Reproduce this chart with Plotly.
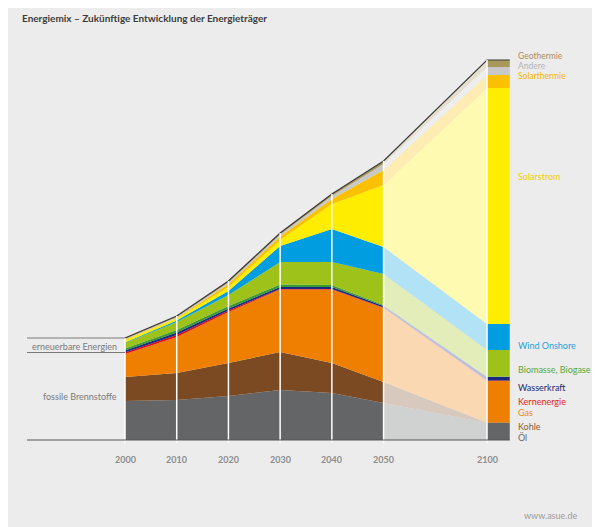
import plotly.graph_objects as go

# ---- data (heights of each layer, arbitrary units) ----
years = ["2000", "2010", "2020", "2030", "2040", "2050", "2100"]
oel          = [39, 40, 44, 50, 47, 37, 17]
kohle        = [24, 27, 33, 38, 30, 21, 0.5]
gas          = [23, 36, 51, 62.5, 73.5, 74, 41.5]
kernenergie  = [1.5, 2, 1.5, 0.5, 0.5, 0.5, 0.5]
wasserkraft  = [2, 2.5, 2, 2, 2, 1.5, 3.5]
biogase      = [2, 2.5, 2.5, 2.5, 2, 1, 0.5]
biomasse     = [5.5, 8, 11, 22.5, 23, 31, 26.5]
wind_onshore = [0.5, 1.5, 4, 16, 33, 27, 26]
solarstrom   = [2.5, 2, 4, 6, 25, 62, 236]
solarthermie = [0.5, 0.5, 3, 3.5, 5, 15, 13]
andere       = [0.5, 1, 1.5, 2, 3, 6, 8]
geothermie   = [1, 1, 1.5, 1.5, 2, 3, 7]

# ---- layout constants ----
OFF = 8                      # page body margin
W, H = 600 - OFF, 527 - OFF
XPOS = [2000, 2010, 2020, 2030, 2040, 2050, 2070]   # compressed time axis positions
XCOL_END = 2074.4
PX = (487 - 125) / 70.0      # px per x unit
X0 = 2000 - (125 - OFF) / PX
X1 = X0 + W / PX
YMIN, YMAX = -10, 400        # 1 unit = 1 px; 0 at reference y=440
TOP = 40                     # reference px of plot top


def xr(px):    # reference pixel -> paper x
    return (px - OFF) / W


def yr(py):    # reference pixel -> paper y (plot-area based)
    return (440 - py - YMIN) / (YMAX - YMIN)


layers = [
    ("Öl", oel, "#646567"),
    ("Kohle", kohle, "#7b4a22"),
    ("Gas", gas, "#ee7f00"),
    ("Kernenergie", kernenergie, "#e30613"),
    ("Wasserkraft", wasserkraft, "#1c2a7c"),
    ("Biogase", biogase, "#3a9b35"),
    ("Biomasse", biomasse, "#9ec21a"),
    ("Wind Onshore", wind_onshore, "#009ee0"),
    ("Solarstrom", solarstrom, "#ffed00"),
    ("Solarthermie", solarthermie, "#fbc000"),
    ("Andere", andere, "#c8c8c8"),
    ("Geothermie", geothermie, "#a8985a"),
]


def pale(hexcol, f=0.3):
    h = hexcol.lstrip("#")
    r, g, b = (int(h[i:i + 2], 16) for i in (0, 2, 4))
    mix = lambda c: int(round(c * f + 255 * (1 - f)))
    return "rgb(%d,%d,%d)" % (mix(r), mix(g), mix(b))


fig = go.Figure()
for name, vals, col in layers:
    fig.add_trace(go.Scatter(x=XPOS[:6], y=vals[:6], stackgroup="solid", mode="lines",
                             line=dict(width=0, color=col), fillcolor=col, name=name,
                             showlegend=False, hoverinfo="skip"))
    fig.add_trace(go.Scatter(x=[XPOS[5], XPOS[6]], y=[vals[5], vals[6]], stackgroup="pale",
                             mode="lines", line=dict(width=0, color=col), fillcolor=pale(col),
                             showlegend=False, hoverinfo="skip"))
    fig.add_trace(go.Scatter(x=[XPOS[6], XCOL_END], y=[vals[6], vals[6]], stackgroup="col",
                             mode="lines", line=dict(width=0, color=col), fillcolor=col,
                             showlegend=False, hoverinfo="skip"))

totals = [sum(l[1][i] for l in layers) for i in range(len(years))]
fig.add_trace(go.Scatter(x=XPOS + [XCOL_END], y=totals + [totals[-1]], mode="lines",
                         line=dict(color="#3a3a3a", width=1.2), showlegend=False,
                         hoverinfo="skip"))

shapes = []
for xp, t in zip(XPOS, totals):
    shapes.append(dict(type="line", x0=xp, x1=xp, y0=-3, y1=t, xref="x", yref="y",
                       line=dict(color="white", width=1.5), layer="above"))
shapes.append(dict(type="line", x0=X0 + (27 - OFF) / PX, x1=XCOL_END, y0=0, y1=0,
                   xref="x", yref="y", line=dict(color="#555555", width=1), layer="above"))
fossil_top = oel[0] + kohle[0] + gas[0] + kernenergie[0]
for yv in (totals[0], fossil_top):
    shapes.append(dict(type="line", x0=X0 + (27 - OFF) / PX, x1=2000, y0=yv, y1=yv,
                       xref="x", yref="y", line=dict(color="#7a7a7a", width=1)))

FONT = "Lato"
ann = []
ann.append(dict(text="<b>Energiemix – Zukünftige Entwicklung der Energieträger</b>",
                x=xr(20), y=yr(18), xref="paper", yref="paper", xanchor="left",
                yanchor="middle", showarrow=False, font=dict(family=FONT, size=10, color="#3c3c3c")))
for xp, lab in zip(XPOS, years):
    ann.append(dict(text="<b>" + lab + "</b>", x=xp, y=yr(459), xref="x", yref="paper",
                    xanchor="center", yanchor="middle", showarrow=False,
                    font=dict(family=FONT, size=9, color="#8c8c8c")))
ann.append(dict(text="erneuerbare Energien", x=xr(119), y=yr(346),
                xref="paper", yref="paper", xanchor="right", yanchor="middle", showarrow=False,
                font=dict(family=FONT, size=9, color="#7a7a7a")))
ann.append(dict(text="fossile Brennstoffe", x=xr(119), y=yr(396),
                xref="paper", yref="paper", xanchor="right", yanchor="middle", showarrow=False,
                font=dict(family=FONT, size=9, color="#7a7a7a")))

right_labels = [
    ("Geothermie", 55.5, "#b08a60", 8.5),
    ("Andere", 66, "#b4b4b4", 8.5),
    ("Solarthermie", 76.5, "#f5b400", 8.5),
    ("Solarstrom", 177, "#f0cc00", 9),
    ("Wind Onshore", 345, "#1ea0dc", 9),
    ("Biomasse, Biogase", 369, "#55a83a", 9),
    ("Wasserkraft", 387, "#1c2a6e", 9),
    ("Kernenergie", 401, "#e2231a", 9),
    ("Gas", 412, "#ef8a10", 9),
    ("Kohle", 426, "#8b5a30", 9),
    ("Öl", 437, "#6a6a6a", 9),
]
for txt, ypx, col, fs in right_labels:
    ann.append(dict(text=txt, x=xr(516), y=yr(ypx), xref="paper", yref="paper",
                    xanchor="left", yanchor="middle", showarrow=False,
                    font=dict(family=FONT, size=fs, color=col)))
ann.append(dict(text="www.asue.de", x=xr(579), y=yr(516), xref="paper", yref="paper",
                xanchor="right", yanchor="middle", showarrow=False,
                font=dict(family=FONT, size=9, color="#9a9a9a")))

fig.update_layout(
    width=W, height=H,
    margin=dict(l=0, r=0, t=TOP - OFF, b=H - (TOP - OFF) - (YMAX - YMIN)),
    paper_bgcolor="#ececec", plot_bgcolor="#ececec",
    xaxis=dict(range=[X0, X1], visible=False, fixedrange=True),
    yaxis=dict(range=[YMIN, YMAX], visible=False, fixedrange=True),
    shapes=shapes, annotations=ann, showlegend=False,
)
fig.write_html("out.html")
